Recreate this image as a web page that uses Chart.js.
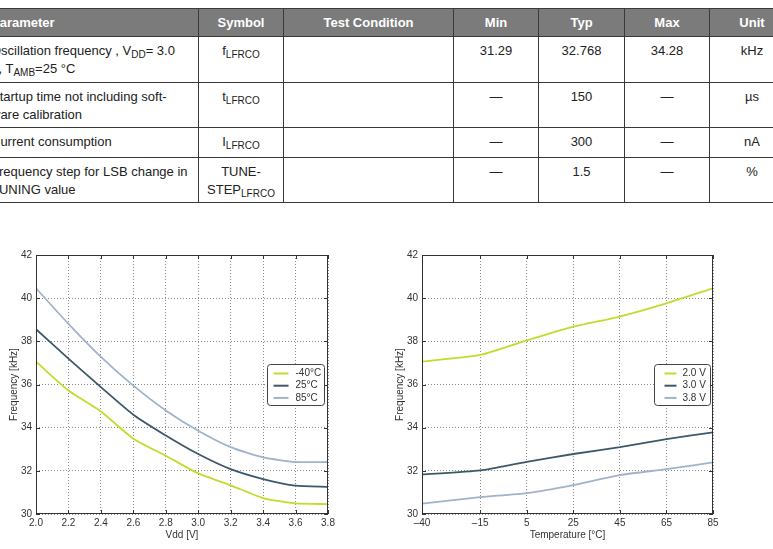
<!DOCTYPE html>
<html>
<head>
<meta charset="utf-8">
<script src="https://cdn.jsdelivr.net/npm/chart.js@4.4.1/dist/chart.umd.min.js"></script>
<style>
    body { margin: 0; background: #fff; width: 773px; height: 549px; overflow: hidden; position: relative; font-family: "Liberation Sans", Arial, sans-serif; }
    table { position: absolute; left: -18px; top: 8px; width: 812px; border-collapse: collapse; table-layout: fixed; font-size: 13px; color: #222; }
    th, td { border: 1px solid #3a3a3a; padding: 0 8px; text-align: center; white-space: nowrap; overflow: hidden; }
    th { background: #7b7b7b; color: #fff; font-weight: bold; vertical-align: middle; }
    td { vertical-align: top; padding-top: 5px; line-height: 18px; }
    td.p { text-align: left; }
    sub { font-size: 10px; vertical-align: -3px; line-height: 0; }
    canvas { position: absolute; }
</style>
</head>
<body>
<table>
    <colgroup>
        <col style="width:216px"><col style="width:85px"><col style="width:170px"><col style="width:85px"><col style="width:86px"><col style="width:85px"><col style="width:85px">
    </colgroup>
    <tr style="height:28px"><th style="text-align:left">Parameter</th><th>Symbol</th><th>Test Condition</th><th>Min</th><th>Typ</th><th>Max</th><th>Unit</th></tr>
    <tr style="height:46px"><td class="p">Oscillation frequency , V<sub>DD</sub>= 3.0<br>V, T<sub>AMB</sub>=25 °C</td><td>f<sub>LFRCO</sub></td><td></td><td>31.29</td><td>32.768</td><td>34.28</td><td>kHz</td></tr>
    <tr style="height:45px"><td class="p">Startup time not including soft-<br>ware calibration</td><td>t<sub>LFRCO</sub></td><td></td><td>—</td><td>150</td><td>—</td><td>µs</td></tr>
    <tr style="height:30px"><td class="p">Current consumption</td><td>I<sub>LFRCO</sub></td><td></td><td>—</td><td>300</td><td>—</td><td>nA</td></tr>
    <tr style="height:45px"><td class="p">Frequency step for LSB change in<br>TUNING value</td><td>TUNE-<br>STEP<sub>LFRCO</sub></td><td></td><td>—</td><td>1.5</td><td>—</td><td>%</td></tr>
</table>

<canvas id="vddChart" width="345" height="304" style="left:0;top:245px"></canvas>
<canvas id="tempChart" width="393" height="304" style="left:380px;top:245px"></canvas>

<script>
    // frequency vs supply voltage, per temperature
    const vdd = [2.0, 2.2, 2.4, 2.6, 2.8, 3.0, 3.2, 3.4, 3.6, 3.8];
    const freqM40 = [37.06, 35.72, 34.75, 33.49, 32.70, 31.88, 31.33, 30.74, 30.49, 30.46];
    const freq25 = [38.56, 37.20, 35.88, 34.60, 33.64, 32.78, 32.08, 31.62, 31.31, 31.26];
    const freq85 = [40.46, 38.81, 37.28, 35.95, 34.80, 33.86, 33.10, 32.62, 32.41, 32.41];
    const tempNames = ['-40°C', '25°C', '85°C'];

    // frequency vs temperature, per supply voltage
    const temps = [-40, -15, 5, 25, 45, 65, 85];
    const freq2V0 = [37.06, 37.37, 38.04, 38.68, 39.15, 39.76, 40.46];
    const freq3V0 = [31.83, 32.02, 32.42, 32.78, 33.10, 33.47, 33.78];
    const freq3V8 = [30.48, 30.78, 30.97, 31.34, 31.80, 32.08, 32.39];
    const vddNames = ['2.0 V', '3.0 V', '3.8 V'];

    const freqTicks = [30, 32, 34, 36, 38, 40, 42];
    const colors = ['#c6da2c', '#3d5869', '#9fb4c8'];

    const pts = (xs, ys) => xs.map((x, i) => ({ x: x, y: ys[i] }));
    const font = { family: '"Liberation Sans", Arial, sans-serif', size: 10 };

    // plot frame, inward ticks and boxed legend inside the plot
    const framePlugin = {
        id: 'frame',
        afterDraw(chart, args, opts) {
            const { ctx, chartArea: a, scales } = chart;
            ctx.save();
            ctx.strokeStyle = '#333';
            ctx.lineWidth = 1;
            ctx.beginPath();
            scales.x.ticks.forEach((t, i) => {
                const px = Math.round(scales.x.getPixelForTick(i)) + 0.5;
                ctx.moveTo(px, a.bottom); ctx.lineTo(px, a.bottom - 4);
                ctx.moveTo(px, a.top); ctx.lineTo(px, a.top + 4);
            });
            scales.y.ticks.forEach((t, i) => {
                const py = Math.round(scales.y.getPixelForTick(i)) + 0.5;
                ctx.moveTo(a.left, py); ctx.lineTo(a.left + 4, py);
                ctx.moveTo(a.right, py); ctx.lineTo(a.right - 4, py);
            });
            ctx.stroke();
            ctx.strokeRect(Math.round(a.left) + 0.5, Math.round(a.top) + 0.5, Math.round(a.width) - 1, Math.round(a.height) - 1);

            // legend
            const w = opts.width, h = 41;
            const lx = Math.round(a.right - opts.right - w) + 0.5;
            const ly = Math.round(a.top + opts.top) + 0.5;
            ctx.fillStyle = '#fff';
            ctx.strokeStyle = '#444';
            ctx.beginPath();
            ctx.roundRect(lx, ly, w, h, 3);
            ctx.fill();
            ctx.stroke();
            ctx.font = '10px "Liberation Sans", Arial, sans-serif';
            ctx.textBaseline = 'middle';
            chart.data.datasets.forEach((ds, i) => {
                const y = ly + 9 + i * 12.2;
                ctx.strokeStyle = ds.borderColor;
                ctx.lineWidth = 2;
                ctx.beginPath();
                ctx.moveTo(lx + opts.lineX, y);
                ctx.lineTo(lx + opts.lineX + opts.lineW, y);
                ctx.stroke();
                ctx.fillStyle = '#333';
                ctx.fillText(ds.label, lx + opts.textX, y);
            });
            ctx.restore();
        }
    };

    function makeChart(id, xs, series, names, xOpts, pad, yWidth, legend) {
        new Chart(document.getElementById(id), {
            type: 'line',
            data: {
                datasets: series.map((s, i) => ({
                    label: names[i], data: pts(xs, s), borderColor: colors[i], backgroundColor: colors[i],
                    borderWidth: 1.8, pointRadius: 0, tension: 0.2, fill: false
                }))
            },
            options: {
                responsive: false,
                animation: false,
                layout: { padding: pad },
                plugins: { legend: { display: false }, tooltip: { enabled: false }, frame: legend },
                scales: {
                    x: Object.assign({
                        type: 'linear',
                        grid: { color: '#8a8a8a', drawTicks: false },
                        border: { display: false, dash: [1, 2] },
                        afterFit: s => { s.height = 27; }
                    }, xOpts),
                    y: {
                        min: 30, max: 42,
                        afterBuildTicks: s => { s.ticks = freqTicks.map(v => ({ value: v })); },
                        ticks: { font: font, color: '#333', padding: 4 },
                        grid: { color: '#8a8a8a', drawTicks: false },
                        border: { display: false, dash: [1, 2] },
                        title: { display: true, text: 'Frequency [kHz]', font: font, color: '#333', padding: 0 },
                        afterFit: s => { s.width = yWidth; }
                    }
                }
            },
            plugins: [framePlugin]
        });
    }

    makeChart('vddChart', vdd, [freqM40, freq25, freq85], tempNames, {
        min: 2.0, max: 3.8,
        afterBuildTicks: s => { s.ticks = vdd.map(v => ({ value: v })); },
        ticks: { font: font, color: '#333', padding: 3, callback: v => v.toFixed(1) },
        title: { display: true, text: 'Vdd [V]', font: font, color: '#333', padding: { top: 2, bottom: 0 } }
    }, { left: 8, top: 10, right: 17, bottom: 8 }, 28,
    { width: 57, right: 4, top: 109, lineX: 6, lineW: 15, textX: 28 });

    makeChart('tempChart', temps, [freq2V0, freq3V0, freq3V8], vddNames, {
        min: -40, max: 85,
        afterBuildTicks: s => { s.ticks = temps.map(v => ({ value: v })); },
        ticks: { font: font, color: '#333', padding: 3, callback: v => v < 0 ? '\u2013' + Math.abs(v) : String(v) },
        title: { display: true, text: 'Temperature [°C]', font: font, color: '#333', padding: { top: 2, bottom: 0 } }
    }, { left: 14, top: 10, right: 60, bottom: 8 }, 28,
    { width: 56, right: 3, top: 109, lineX: 10, lineW: 12, textX: 28 });
</script>
</body>
</html>
